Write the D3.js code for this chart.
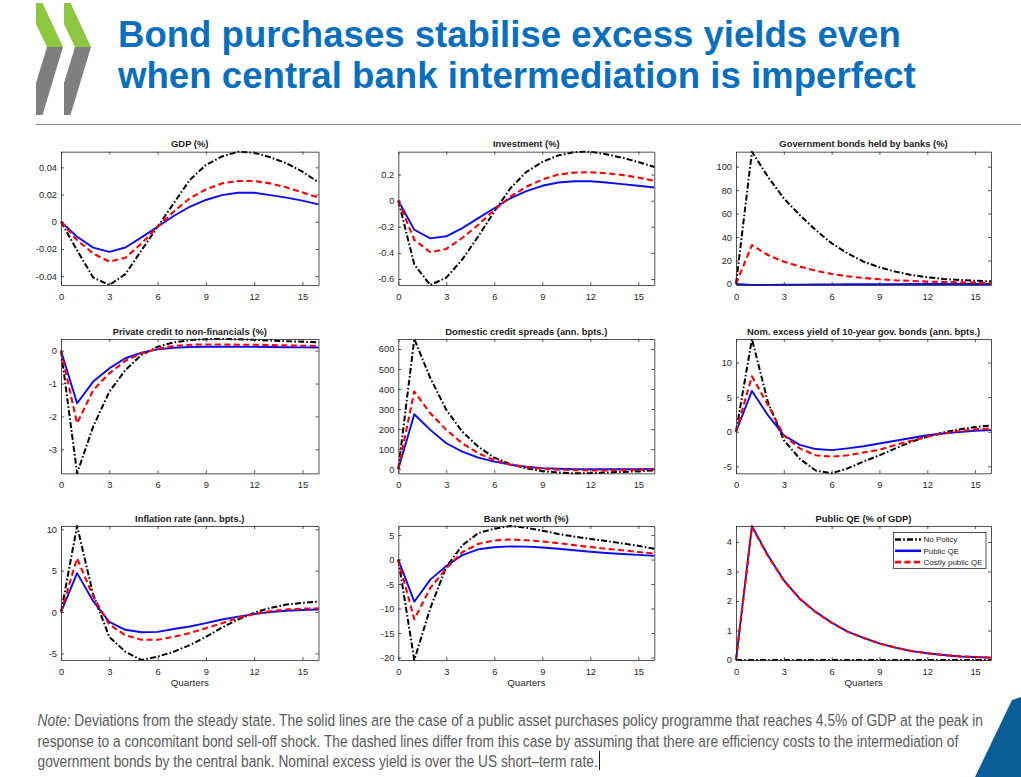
<!DOCTYPE html>
<html><head><meta charset="utf-8">
<script src="https://cdn.jsdelivr.net/npm/d3@7"></script>
<style>
body{margin:0;background:#fff}
svg{display:block}
text{font-family:"Liberation Sans",Arial,Helvetica,sans-serif}
</style>
</head><body>
<svg id="c" width="1021" height="777"></svg>
<script>
// ---------- DATA ----------
const quarters = [0,1,2,3,4,5,6,7,8,9,10,11,12,13,14,15,16];
const xTicks = [0,3,6,9,12,15];
const seriesNames = ["No Policy","Public QE","Costly public QE"];

const gdpNoPolicy = [0,-0.021,-0.041,-0.0465,-0.0385,-0.021,-0.0037,0.0135,0.0307,0.0417,0.048,0.0515,0.0508,0.0474,0.043,0.0368,0.029];
const gdpPublicQE = [0,-0.011,-0.019,-0.0221,-0.0189,-0.0115,-0.0037,0.0042,0.011,0.016,0.0196,0.0213,0.0213,0.0196,0.0177,0.0155,0.0128];
const gdpCostlyQE = [0,-0.0135,-0.0233,-0.0294,-0.0265,-0.016,-0.0037,0.0074,0.0172,0.0238,0.0282,0.030,0.030,0.0282,0.0253,0.0216,0.0177];
const gdpTicks = [-0.04,-0.02,0,0.02,0.04];

const invNoPolicy = [0,-0.489,-0.646,-0.59,-0.45,-0.273,-0.084,0.094,0.22,0.296,0.347,0.372,0.375,0.355,0.329,0.296,0.258];
const invPublicQE = [0,-0.223,-0.289,-0.273,-0.21,-0.134,-0.058,0.018,0.073,0.114,0.139,0.149,0.149,0.139,0.127,0.114,0.101];
const invCostlyQE = [0,-0.30,-0.395,-0.37,-0.286,-0.185,-0.071,0.03,0.106,0.162,0.2,0.215,0.218,0.21,0.197,0.177,0.152];
const invTicks = [-0.6,-0.4,-0.2,0,0.2];

const bondsNoPolicy = [0,112.8,91.5,73,58.8,46,34.7,26.1,19,14.2,10.5,7.7,5.7,4.3,3.4,2.7,2.2];
const bondsPublicQE = [0,-0.9,-0.8,-0.7,-0.6,-0.5,-0.4,-0.3,-0.25,-0.2,-0.15,-0.1,-0.08,-0.05,-0.03,-0.02,-0.01];
const bondsCostlyQE = [0,33.2,24.7,19,14.8,11.4,8.5,6.5,5.1,4,3.1,2.6,2.0,1.7,1.4,1.1,0.9];
const bondsTicks = [0,20,40,60,80,100];

const credNoPolicy = [0,-3.73,-2.31,-1.25,-0.59,-0.13,0.12,0.25,0.32,0.35,0.355,0.345,0.33,0.31,0.29,0.27,0.25];
const credPublicQE = [0,-1.6,-0.94,-0.54,-0.23,-0.06,0.04,0.09,0.11,0.12,0.12,0.12,0.115,0.11,0.105,0.1,0.095];
const credCostlyQE = [0,-2.21,-1.2,-0.69,-0.31,-0.08,0.06,0.14,0.18,0.19,0.19,0.18,0.18,0.17,0.16,0.15,0.14];
const credTicks = [-3,-2,-1,0];

const sprNoPolicy = [0,650,455,296,187,112,57,25,3,-10,-17,-21,-20,-17,-14,-11,-7];
const sprPublicQE = [0,274,196,129,87,57,37,22,12,5,2,0,-1,-1,-1,0,1];
const sprCostlyQE = [0,388,279,196,129,79,45,23,10,2,-3,-5,-7,-7,-5,-3,-2];
const sprTicks = [0,100,200,300,400,500,600];

const eyNoPolicy = [0,13.4,4.3,-1.2,-3.9,-5.6,-6.0,-5.3,-4.3,-3.4,-2.4,-1.45,-0.7,-0.1,0.34,0.68,0.92];
const eyPublicQE = [0,5.9,2.4,-0.5,-1.9,-2.5,-2.65,-2.4,-2.1,-1.7,-1.3,-0.9,-0.5,-0.25,-0.05,0.15,0.24];
const eyCostlyQE = [0,8.0,3.9,-0.5,-2.4,-3.4,-3.6,-3.4,-3.0,-2.6,-1.9,-1.3,-0.7,-0.24,0.1,0.34,0.48];
const eyTicks = [-5,0,5,10];

const infNoPolicy = [0,10.4,2.1,-3.0,-4.8,-5.8,-5.4,-4.8,-4.0,-3.0,-1.9,-0.9,-0.1,0.5,0.9,1.1,1.25];
const infPublicQE = [0,4.7,1.3,-1.2,-2.15,-2.45,-2.4,-2.05,-1.75,-1.35,-0.9,-0.55,-0.25,0,0.15,0.25,0.3];
const infCostlyQE = [0,6.5,1.9,-1.5,-2.8,-3.35,-3.35,-3.0,-2.55,-1.95,-1.35,-0.7,-0.25,0.1,0.3,0.4,0.45];
const infTicks = [-5,0,5,10];

const bnwNoPolicy = [0,-20.5,-9.9,-1.5,2.9,5.4,6.3,6.85,6.5,5.9,5.2,4.7,4.2,3.8,3.3,2.8,2.2];
const bnwPublicQE = [0,-8.6,-4.1,-1.3,0.9,2.1,2.5,2.7,2.65,2.45,2.2,1.9,1.6,1.35,1.15,0.95,0.75];
const bnwCostlyQE = [0,-12.2,-5.8,-1.8,1.5,3.2,3.9,4.1,3.95,3.7,3.35,2.95,2.55,2.2,1.9,1.55,1.2];
const bnwTicks = [-20,-15,-10,-5,0,5];

const qeNoPolicy = [0,0,0,0,0,0,0,0,0,0,0,0,0,0,0,0,0];
const qePublicQE = [0,4.54,3.55,2.7,2.08,1.63,1.27,0.96,0.75,0.56,0.42,0.3,0.23,0.17,0.12,0.1,0.08];
const qeCostlyQE = [0,4.5,3.53,2.69,2.07,1.62,1.26,0.96,0.75,0.56,0.42,0.31,0.23,0.17,0.13,0.1,0.08];
const qeTicks = [0,1,2,3,4];

const titleLines = ["Bond purchases stabilise excess yields even","when central bank intermediation is imperfect"];
const noteLines = [
  [["Note:",true],[" Deviations from the steady state. The solid lines are the case of a public asset purchases policy programme that reaches 4.5% of GDP at the peak in",false]],
  [["response to a concomitant bond sell-off shock. The dashed lines differ from this case by assuming that there are efficiency costs to the intermediation of",false]],
  [["government bonds by the central bank. Nominal excess yield is over the US short\u2013term rate.",false]]
];

// panels table built from the arrays
const panels = [
  {title:"GDP (%)", s:[gdpNoPolicy,gdpPublicQE,gdpCostlyQE], yt:gdpTicks},
  {title:"Investment (%)", s:[invNoPolicy,invPublicQE,invCostlyQE], yt:invTicks},
  {title:"Government bonds held by banks (%)", s:[bondsNoPolicy,bondsPublicQE,bondsCostlyQE], yt:bondsTicks},
  {title:"Private credit to non-financials (%)", s:[credNoPolicy,credPublicQE,credCostlyQE], yt:credTicks},
  {title:"Domestic credit spreads (ann. bpts.)", s:[sprNoPolicy,sprPublicQE,sprCostlyQE], yt:sprTicks},
  {title:"Nom. excess yield of 10-year gov. bonds (ann. bpts.)", s:[eyNoPolicy,eyPublicQE,eyCostlyQE], yt:eyTicks},
  {title:"Inflation rate (ann. bpts.)", s:[infNoPolicy,infPublicQE,infCostlyQE], yt:infTicks, xlab:true},
  {title:"Bank net worth (%)", s:[bnwNoPolicy,bnwPublicQE,bnwCostlyQE], yt:bnwTicks, xlab:true},
  {title:"Public QE (% of GDP)", s:[qeNoPolicy,qePublicQE,qeCostlyQE], yt:qeTicks, xlab:true, legend:true}
];

// ---------- LAYOUT / STYLE ----------
const cols = [[61,318.5],[398.3,654.3],[736,991]];
const rows = [[151.7,285],[339,473.3],[526,660]];
const styles = [
  {color:"#000000", w:2, dash:"6,2.2,1.6,2.2"},
  {color:"#0b0bf0", w:1.9, dash:null},
  {color:"#ff0000", w:2.1, dash:"6,3.5"}
];
const axisColor = "#262626";
const svg = d3.select("#c");

// ---------- HEADER ----------
const logo = svg.append("g");
[36,64].forEach(ox=>{
  logo.append("polygon").attr("points",[[0,3],[6.5,3],[27,47],[11,47],[0,24]].map(p=>[p[0]+ox,p[1]].join(",")).join(" ")).attr("fill","#8dc63f");
  logo.append("polygon").attr("points",[[11,47],[27,47],[6.5,115],[0,115],[0,83]].map(p=>[p[0]+ox,p[1]].join(",")).join(" ")).attr("fill","#7f7f7f");
});

const titleTargets = [[118,47,783],[118,88,798]];
titleLines.forEach((t,i)=>{
  const [x,y,w] = titleTargets[i];
  const el = svg.append("text").attr("x",x).attr("y",y).attr("fill","#0a6fbf")
    .attr("font-weight","bold").attr("font-size",35).text(t);
  const L = el.node().getComputedTextLength();
  el.attr("font-size", 35*w/L);
});
svg.append("line").attr("x1",36).attr("x2",1021).attr("y1",124.5).attr("y2",124.5)
  .attr("stroke","#8a8a8a").attr("stroke-width",1);

// ---------- PANELS ----------
const line = (x,y)=>d3.line().x((d,i)=>x(quarters[i])).y(d=>y(d));
panels.forEach((p,k)=>{
  const c = cols[k%3], r = rows[Math.floor(k/3)];
  const x = d3.scaleLinear().domain([0,16]).range(c);
  const all = p.s.flat();
  const y = d3.scaleLinear().domain(d3.extent(all)).range([r[1],r[0]]);
  const g = svg.append("g");
  p.s.forEach((arr,si)=>{
    const st = styles[si];
    g.append("path").datum(arr).attr("d",line(x,y)).attr("fill","none")
      .attr("stroke",st.color).attr("stroke-width",st.w)
      .attr("stroke-dasharray",st.dash).attr("stroke-linejoin","round");
  });
  const ax = (a)=>a.tickSizeInner(-3).tickSizeOuter(0);
  const gb = g.append("g").attr("transform",`translate(0,${r[1]})`)
    .call(ax(d3.axisBottom(x).tickValues(xTicks)).tickPadding(8.5));
  const gt = g.append("g").attr("transform",`translate(0,${r[0]})`)
    .call(ax(d3.axisTop(x).tickValues(xTicks)).tickFormat(""));
  const gl = g.append("g").attr("transform",`translate(${c[0]},0)`)
    .call(ax(d3.axisLeft(y).tickValues(p.yt)).tickPadding(4).tickFormat(d=>String(+d.toFixed(4))));
  const gr = g.append("g").attr("transform",`translate(${c[1]},0)`)
    .call(ax(d3.axisRight(y).tickValues(p.yt)).tickFormat(""));
  [gb,gt,gl,gr].forEach(a=>{
    a.selectAll("path,line").attr("stroke",axisColor).attr("stroke-width",0.8);
    a.selectAll("text").attr("fill",axisColor).attr("font-size",9.3)
      .attr("font-family","'Liberation Sans',Arial,sans-serif");
  });
  g.append("text").attr("x",(c[0]+c[1])/2).attr("y",r[0]-4.5).attr("text-anchor","middle")
    .attr("font-size",9.4).attr("font-weight","bold").attr("fill","#1a1a1a").text(p.title);
  if(p.xlab){
    g.append("text").attr("x",(c[0]+c[1])/2).attr("y",r[1]+25.5).attr("text-anchor","middle")
      .attr("font-size",9.8).attr("fill",axisColor).text("Quarters");
  }
  if(p.legend){
    const lx = 893.5, ly = 532.5, lw = 92.5, lh = 36;
    const lg = g.append("g");
    lg.append("rect").attr("x",lx).attr("y",ly).attr("width",lw).attr("height",lh)
      .attr("fill","#fff").attr("stroke",axisColor).attr("stroke-width",0.8);
    seriesNames.forEach((n,i)=>{
      const yy = ly+7+i*11.3;
      const st = styles[i];
      lg.append("line").attr("x1",lx+1.5).attr("x2",lx+27.5).attr("y1",yy).attr("y2",yy)
        .attr("stroke",st.color).attr("stroke-width",st.w+0.6).attr("stroke-dasharray",st.dash);
      lg.append("text").attr("x",lx+30).attr("y",yy+2.8).attr("font-size",8)
        .attr("fill","#1a1a1a").text(n);
    });
  }
});

// ---------- NOTE ----------
const noteTargets = [[37.5,726,945],[37.5,746.5,921],[37.5,767,560]];
noteLines.forEach((parts,i)=>{
  const [x,y,w] = noteTargets[i];
  const g = svg.append("g").attr("transform",`translate(${x},${y})`);
  const t = g.append("text").attr("font-size",16.8).attr("fill","#595959");
  parts.forEach(([s,it])=>t.append("tspan").attr("font-style",it?"italic":"normal").text(s));
  const L = t.node().getComputedTextLength();
  g.attr("transform",`translate(${x},${y}) scale(${w/L},1)`);
});
svg.append("line").attr("x1",599.5).attr("x2",599.5).attr("y1",751).attr("y2",770)
  .attr("stroke","#222").attr("stroke-width",1);

svg.append("polygon").attr("points","1012,700 1021,697 1021,777 975,777").attr("fill","#0b5d97");
</script>
</body></html>
